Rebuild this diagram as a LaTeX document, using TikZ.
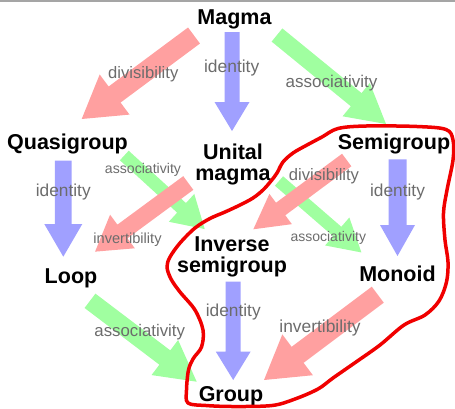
\documentclass[tikz,border=0pt]{standalone}
\usepackage{fontspec}
\setmainfont{Liberation Sans}
\usetikzlibrary{calc}
\definecolor{ared}{RGB}{255,160,160}
\definecolor{ablue}{RGB}{160,160,255}
\definecolor{agreen}{RGB}{160,255,160}
\definecolor{lblgray}{RGB}{108,108,108}
\definecolor{topgray}{RGB}{165,165,165}
\definecolor{loopred}{RGB}{240,0,0}
% #1 colour, #2 tail, #3 tip, #4 shaft width, #5 head width, #6 head length
\newcommand\blockarrow[6]{%
 \pgfpointanchor{#2}{center}\pgfgetlastxy{\baAx}{\baAy}%
 \pgfpointanchor{#3}{center}\pgfgetlastxy{\baBx}{\baBy}%
 \pgfmathsetmacro\baDx{\baBx-\baAx}%
 \pgfmathsetmacro\baDy{\baBy-\baAy}%
 \pgfmathsetmacro\baLen{veclen(\baDx,\baDy)}%
 \pgfmathsetmacro\baAng{atan2(\baDy,\baDx)}%
 \pgfmathsetmacro\baNeck{\baLen-#6}%
 \begin{scope}[shift={(#2)},rotate=\baAng]
   \fill[#1] (0,-#4/2) -- (\baNeck,-#4/2) -- (\baNeck,-#5/2) -- (\baLen,0)
     -- (\baNeck,#5/2) -- (\baNeck,#4/2) -- (0,#4/2) -- cycle;
 \end{scope}}
\tikzset{
 alg/.style={font=\fontsize{21.5}{21.5}\selectfont\bfseries, text=black, inner sep=0pt, anchor=base, align=center},
 lbl/.style={font=\fontsize{#1}{#1}\selectfont, text=lblgray, inner sep=0pt, anchor=base},
 outline/.style={draw=loopred, line width=3.5pt, line join=round, line cap=round},
}
\begin{document}
\begin{tikzpicture}[x=1pt,y=-1pt]
\useasboundingbox (0,0) rectangle (455,408);
\fill[topgray] (0,0) rectangle (455,1.5);

% arrow end points
\coordinate (mqT) at (194,35.5);   \coordinate (mqH) at (81.7,119);
\coordinate (muT) at (232,32);     \coordinate (muH) at (232,131);
\coordinate (msT) at (277,35);     \coordinate (msH) at (386,124);
\coordinate (qiT) at (124.3,155.5); \coordinate (qiH) at (205,229.3);
\coordinate (ulT) at (188.3,183);  \coordinate (ulH) at (95,251.7);
\coordinate (siT) at (346.7,160);  \coordinate (siH) at (253.3,229.3);
\coordinate (umT) at (279,181);    \coordinate (umH) at (361.7,252.7);
\coordinate (qlT) at (63.3,160.7); \coordinate (qlH) at (63.3,256.7);
\coordinate (smT) at (397.5,159.3); \coordinate (smH) at (397.5,256);
\coordinate (igT) at (233.2,281.7); \coordinate (igH) at (233.2,380);
\coordinate (lgT) at (90,300.8);   \coordinate (lgH) at (196.7,381.7);
\coordinate (mgT) at (377.8,294.7); \coordinate (mgH) at (264,380);

% green arrows
\blockarrow{agreen}{msT}{msH}{17}{43}{38.5}
\blockarrow{agreen}{qiT}{qiH}{13}{37.7}{31.4}
\blockarrow{agreen}{umT}{umH}{12.5}{37}{32}
\blockarrow{agreen}{lgT}{lgH}{18}{44}{40}
% red arrows
\blockarrow{ared}{mqT}{mqH}{20}{50}{41}
\blockarrow{ared}{ulT}{ulH}{17}{41.7}{34}
\blockarrow{ared}{siT}{siH}{15.6}{37.7}{34}
\blockarrow{ared}{mgT}{mgH}{20}{51}{42}
% blue arrows
\blockarrow{ablue}{muT}{muH}{15}{35}{29}
\blockarrow{ablue}{qlT}{qlH}{16.7}{38}{32.7}
\blockarrow{ablue}{smT}{smH}{18}{35}{31}
\blockarrow{ablue}{igT}{igH}{15}{34.7}{28.3}

% structures
\node[alg] (magma) at (234.5,24) {Magma};
\node[alg] (quasi) at (67.5,149) {Quasigroup};
\node[alg] (unital) at (233,180.5) {Unital\\magma};
\node[alg] (semi) at (394,149) {Semigroup};
\node[alg] (inverse) at (232,272.5) {Inverse\\semigroup};
\node[alg] (loop) at (71,283.3) {Loop};
\node[alg] (monoid) at (397.5,281.7) {Monoid};
\node[alg] (group) at (231,401.5) {Group};

% labels
\node[lbl=16.6] (l1) at (143.3,78.3) {divisibility};
\node[lbl=17.4] (l2) at (231.7,72.7) {identity};
\node[lbl=17] (l3) at (331.5,87) {associativity};
\node[lbl=14.1] (l4) at (143,173.3) {associativity};
\node[lbl=16.6] (l5) at (324,180) {divisibility};
\node[lbl=17.3] (l6) at (63.3,196.7) {identity};
\node[lbl=17.3] (l7) at (397.5,196.7) {identity};
\node[lbl=14.6] (l8) at (127.5,243.3) {invertibility};
\node[lbl=14] (l9) at (328.3,241.7) {associativity};
\node[lbl=17.3] (l10) at (233.3,316) {identity};
\node[lbl=16.8] (l11) at (139.7,336) {associativity};
\node[lbl=17.4] (l12) at (320,332.7) {invertibility};

% hand-drawn outline
\draw[outline] plot[smooth cycle, tension=0.55] coordinates {
 (338,128.5) (366,126) (417,126.5) (446,129.5) (453,140) (453,160) (447,190)
 (443.5,213) (445,240) (448,262) (446.5,282) (439,301) (425,315) (404,325)
 (380,345) (356,362) (333,378) (318,389) (295,399) (272,405.5) (233,406.5)
 (206,405.5) (188,403) (186.5,390) (188.5,370) (193.3,358.5) (201.5,347)
 (203,330) (195,310) (180,292) (171,279) (167,267) (170,257) (180,243)
 (195,228) (210,218.5) (225,212) (240,205) (253,198) (263,190) (271,181)
 (277,173) (283,162) (293,153) (307,145) (322,137)
};
\end{tikzpicture}
\end{document}
